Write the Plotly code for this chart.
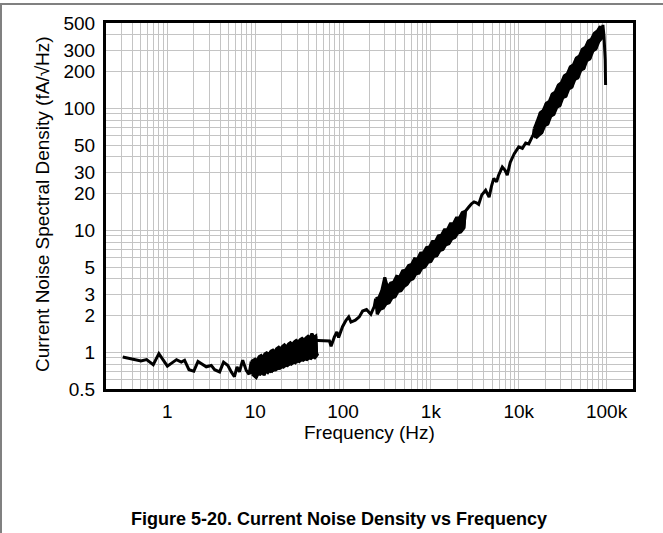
import plotly.graph_objects as go

# ---------------- data ----------------
low_freq = [0.31, 0.5, 0.58, 0.69, 0.8, 1.0, 1.27, 1.44, 1.57, 1.76, 2.0, 2.23, 2.77,
            3.16, 3.45, 3.93, 4.36, 4.88, 5.34, 5.8, 6.2, 6.6, 7.2, 7.9, 8.5]
low_val = [0.915, 0.85, 0.87, 0.79, 0.975, 0.77, 0.87, 0.83, 0.86, 0.72, 0.70, 0.84, 0.76,
           0.78, 0.72, 0.69, 0.83, 0.78, 0.69, 0.63, 0.76, 0.69, 0.86, 0.71, 0.66]

# dense noisy sweep 9-50 Hz (alternating upper / lower excursions)
band1_freq = [9.0, 9.25, 9.5, 9.75, 10.0, 10.25, 10.5, 10.8, 11.1, 11.4, 11.7, 12.0, 12.3,
              12.6, 12.9, 13.2, 13.5, 13.9, 14.3, 14.7, 15.1, 15.5, 15.9, 16.3, 16.7, 17.1,
              17.5, 18.0, 18.5, 19.0, 19.5, 20.0, 20.5, 21.0, 21.5, 22.1, 22.7, 23.3, 23.9,
              24.5, 25.1, 25.8, 26.5, 27.2, 27.9, 28.6, 29.3, 30.1, 30.9, 31.7, 32.5, 33.3,
              34.2, 35.1, 36.0, 36.9, 37.9, 38.9, 39.9, 40.9, 42.0, 43.1, 44.2, 45.3, 46.5,
              47.7, 48.9, 50.1]
band1_val = [0.84, 0.66, 0.86, 0.64, 0.88, 0.62, 0.85, 0.67, 0.92, 0.66, 0.94, 0.69, 0.90,
             0.65, 0.97, 0.70, 0.99, 0.68, 0.96, 0.72, 1.02, 0.70, 1.04, 0.74, 1.00, 0.72,
             1.07, 0.76, 1.10, 0.74, 1.06, 0.78, 1.12, 0.76, 1.15, 0.80, 1.10, 0.78, 1.17,
             0.82, 1.20, 0.80, 1.16, 0.84, 1.22, 0.82, 1.25, 0.86, 1.21, 0.84, 1.27, 0.87,
             1.30, 0.86, 1.26, 0.88, 1.31, 0.87, 1.35, 0.90, 1.30, 0.89, 1.42, 0.92, 1.33,
             0.90, 1.36, 0.94]

mid1_freq = [51.5, 14.5, 45.0, 52, 70, 73, 79.5, 85, 89, 98.6, 108, 116, 123, 138, 153, 167,
             185, 207, 227]
mid1_val = [0.975, 0.69, 1.25, 1.25, 1.24, 1.12, 1.33, 1.47, 1.32, 1.62, 1.83, 1.95, 1.77,
            1.83, 1.95, 2.18, 2.24, 2.05, 2.38]

band2_freq = [235, 245, 255, 265, 276, 287, 298, 310, 322, 335, 348, 362, 376, 391, 407,
              423, 440, 458, 476, 495, 515, 535, 557, 579, 602, 626, 651, 677, 704, 732,
              761, 792, 823, 856, 890, 926, 963, 1000, 1040, 1082, 1125, 1170, 1217, 1266,
              1316, 1369, 1424, 1481, 1540, 1602, 1666, 1732, 1802, 1874, 1949, 2027, 2108,
              2192, 2280, 2371, 2466]
band2_val = [2.75, 2.05, 2.8, 2.25, 3.2, 2.3, 4.1, 2.5, 3.4, 2.55, 3.7, 2.8, 3.75, 2.85, 4.2,
             3.15, 4.15, 3.2, 4.65, 3.45, 4.7, 3.6, 5.15, 3.9, 5.25, 4.0, 5.85, 4.4, 5.8, 4.45,
             6.5, 4.9, 6.55, 5.0, 7.2, 5.45, 7.3, 5.55, 8.1, 6.1, 8.1, 6.2, 9.0, 6.8,
             9.1, 6.95, 10.1, 7.6, 10.1, 7.75, 11.3, 8.5, 11.3, 8.7, 12.6, 9.5, 12.6,
             9.7, 14.0, 10.4, 14.3]

mid2_freq = [2700, 2900, 3100, 3300, 3500, 3800, 4200, 4600, 4900, 5200, 5600, 5900, 6500,
             7000, 7400, 8000, 8900, 10000, 11000, 12000, 13000, 14000, 14700]
mid2_val = [15.5, 16.5, 17.1, 16.8, 16.3, 19.5, 21.3, 18.7, 23, 26.6, 25, 28.3, 33,
            31, 28.3, 36, 42.5, 48.3, 47, 52, 51.1, 57, 61]

band3_freq = [15000, 15600, 16200, 16900, 17600, 18300, 19000, 19800, 20600, 21400, 22300,
              23200, 24100, 25100, 26100, 27200, 28300, 29400, 30600, 31800, 33100, 34400,
              35800, 37200, 38700, 40300, 41900, 43600, 45300, 47100, 49000, 51000, 53000,
              55100, 57300, 59600, 62000, 64500, 67100, 69800, 72600, 75500, 78500, 81600,
              84900, 88300]
band3_val = [68, 57, 78, 60, 92, 63, 96, 72, 110, 74, 114, 86, 131, 89, 136, 102, 155, 105,
             162, 122, 185, 125, 192, 144, 219, 149, 227, 172, 258, 177, 268, 205, 304, 211,
             316, 245, 355, 254, 368, 294, 412, 306, 430, 352, 470, 375]

tail_freq = [90800, 93500, 96500, 97500]
tail_val = [482, 390, 250, 155]

x_tick_vals = [1, 10, 100, 1000, 10000, 100000]
x_tick_text = ["1", "10", "100", "1k", "10k", "100k"]
y_tick_vals = [0.5, 1, 2, 3, 5, 10, 20, 30, 50, 100, 200, 300, 500]
y_tick_text = ["0.5", "1", "2", "3", "5", "10", "20", "30", "50", "100", "200", "300", "500"]

freq = low_freq + band1_freq + mid1_freq + band2_freq + mid2_freq + band3_freq + tail_freq
noise = low_val + band1_val + mid1_val + band2_val + mid2_val + band3_val + tail_val

# grid positions (1..9 per decade)
x_minor = [d * 10 ** e for e in range(-1, 6) for d in range(2, 10) if 0.2 < d * 10 ** e < 200000]
y_minor = [d * 10 ** e for e in range(-1, 3) for d in range(1, 10) if 0.5 < d * 10 ** e < 500]

FONT = "Liberation Sans, Arial, sans-serif"
W, H = 663, 533
L, R, T, B = 106, 30, 23, 144
PW, PH = W - L - R, H - T - B
LW = 3.0


def px(xp):
    return (xp - L) / PW


def py(yp):
    return (H - B - yp) / PH


fig = go.Figure()

# the dense noisy sweeps render as solid black bands: fill between the upper and
# lower excursions of each sweep
for bf, bv in [(band1_freq, band1_val), (band2_freq, band2_val), (band3_freq, band3_val)]:
    up_f, up_v = bf[0::2], bv[0::2]
    lo_f, lo_v = bf[1::2], bv[1::2]
    fig.add_trace(go.Scatter(x=up_f + lo_f[::-1], y=up_v + lo_v[::-1], mode="lines",
                             fill="toself", fillcolor="black",
                             line=dict(color="black", width=LW, simplify=False),
                             showlegend=False, hoverinfo="skip"))

fig.add_trace(go.Scatter(x=freq, y=noise, mode="lines",
                         line=dict(color="black", width=LW, simplify=False),
                         showlegend=False, hoverinfo="skip"))

grid_col = "#c4c4c4"
fig.update_xaxes(type="log", range=[-0.69897, 5.30103],
                 tickvals=x_tick_vals, ticktext=x_tick_text, ticks="",
                 showgrid=True, gridcolor=grid_col, gridwidth=1,
                 minor=dict(tickvals=x_minor, showgrid=True, gridcolor=grid_col, gridwidth=1, ticks=""),
                 showline=True, linecolor="black", linewidth=3, mirror=True,
                 tickfont=dict(family=FONT, size=19, color="black"),
                 ticklabelstandoff=3, zeroline=False)
fig.update_yaxes(type="log", range=[-0.30103, 2.69897],
                 tickvals=y_tick_vals, ticktext=y_tick_text, ticks="",
                 showgrid=True, gridcolor=grid_col, gridwidth=1,
                 minor=dict(tickvals=y_minor, showgrid=True, gridcolor=grid_col, gridwidth=1, ticks=""),
                 showline=True, linecolor="black", linewidth=3, mirror=True,
                 tickfont=dict(family=FONT, size=19, color="black"),
                 ticklabelstandoff=4, zeroline=False)

annotations = [
    dict(text="Frequency (Hz)", x=px(369), y=py(432), xref="paper", yref="paper",
         xanchor="center", yanchor="middle", showarrow=False,
         font=dict(family=FONT, size=19, color="black")),
    dict(text="Current Noise Spectral Density (fA/√Hz)", x=px(42), y=py(204), xref="paper",
         yref="paper", xanchor="center", yanchor="middle", showarrow=False, textangle=-90,
         font=dict(family=FONT, size=19, color="black")),
    dict(text="<b>Figure 5-20. Current Noise Density vs Frequency</b>", x=px(339), y=py(519),
         xref="paper", yref="paper", xanchor="center", yanchor="middle", showarrow=False,
         font=dict(family=FONT, size=18, color="black")),
]

shapes = [
    dict(type="line", xref="paper", yref="paper", x0=px(0), x1=px(W), y0=py(4), y1=py(4),
         line=dict(color="#808080", width=2)),
    dict(type="line", xref="paper", yref="paper", x0=px(1), x1=px(1), y0=py(4), y1=py(H),
         line=dict(color="#808080", width=2)),
]

fig.update_layout(width=W, height=H, margin=dict(l=L, r=R, t=T, b=B, autoexpand=False),
                  paper_bgcolor="white", plot_bgcolor="white",
                  annotations=annotations, shapes=shapes, showlegend=False)

fig.write_html("out.html")
